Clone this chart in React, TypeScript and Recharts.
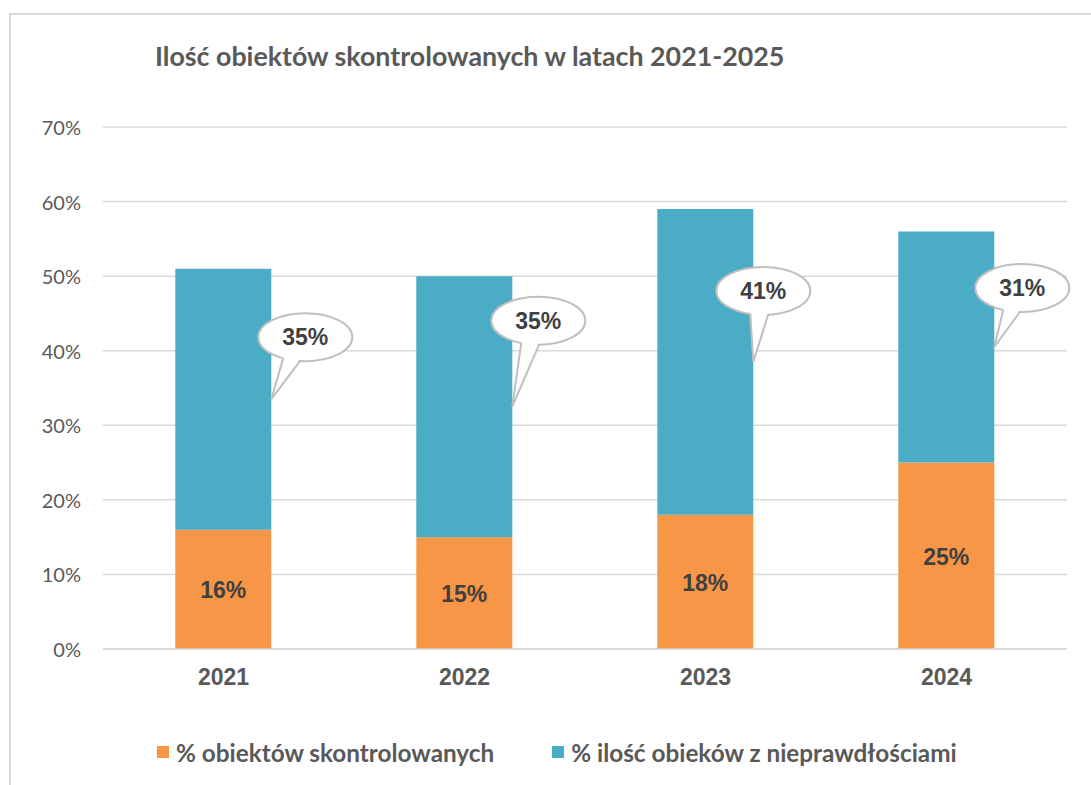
import React from 'react';
import { BarChart, Bar, XAxis, YAxis, CartesianGrid, LabelList } from 'recharts';

const years = ['2021', '2022', '2023', '2024'];
const controlled = [16, 15, 18, 25];
const irregular = [35, 35, 41, 31];
const yTicks = [0, 10, 20, 30, 40, 50, 60, 70];

const seriesNames = ['% obiektów skontrolowanych', '% ilość obieków z nieprawdłościami'];
const seriesColors = ['#F79646', '#4BACC6'];
const titleText = 'Ilość obiektów skontrolowanych w latach 2021-2025';

// manual placement of the callout bubbles relative to the tail tip (styling)
const calloutOffsets = [
  { dx: 34, dy: -62, b1: -22, b2: -5 },
  { dx: 26, dy: -86, b1: -17, b2: 1 },
  { dx: 10, dy: -71, b1: -13, b2: 5 },
  { dx: 28, dy: -59, b1: -19, b2: -2 },
];

const data = years.map((y, i) => ({ year: y, controlled: controlled[i], irregular: irregular[i] }));

const W = 1091;
const H = 785;

const Callout = (props: any) => {
  const { x, y, width, height, value, index } = props;
  const tipX = Number(x) + Number(width);
  const tipY = Number(y) + Number(height) / 2;
  const o = calloutOffsets[index] || calloutOffsets[0];
  const cx = tipX + o.dx;
  const cy = tipY + o.dy;
  const rx = 47;
  const ry = 24;
  const ey = (dx: number) => cy + ry * Math.sqrt(Math.max(0, 1 - (dx / rx) * (dx / rx)));
  const p1 = { x: cx + o.b1, y: ey(o.b1) };
  const p2 = { x: cx + o.b2, y: ey(o.b2) };
  return (
    <g>
      <ellipse cx={cx} cy={cy} rx={rx} ry={ry} fill="#FFFFFF" stroke="#BFBFBF" strokeWidth={2} />
      <polygon
        points={`${p1.x},${p1.y - 3} ${p2.x},${p2.y - 3} ${tipX},${tipY}`}
        fill="#FFFFFF"
        stroke="none"
      />
      <line x1={p1.x} y1={p1.y - 0.5} x2={tipX} y2={tipY} stroke="#BFBFBF" strokeWidth={2} />
      <line x1={p2.x} y1={p2.y - 0.5} x2={tipX} y2={tipY} stroke="#BFBFBF" strokeWidth={2} />
      <text
        x={cx}
        y={cy}
        textAnchor="middle"
        dominantBaseline="central"
        fontFamily="'Liberation Sans', Arial, sans-serif"
        fontWeight="bold"
        fontSize={23}
        fill="#404040"
      >
        {`${value}%`}
      </text>
    </g>
  );
};

const CenterLabel = (props: any) => {
  const { x, y, width, height, value } = props;
  return (
    <text
      x={Number(x) + Number(width) / 2}
      y={Number(y) + Number(height) / 2 + 1}
      textAnchor="middle"
      dominantBaseline="central"
      fontFamily="'Liberation Sans', Arial, sans-serif"
      fontWeight="bold"
      fontSize={23}
      fill="#404040"
    >
      {`${value}%`}
    </text>
  );
};

const YTick = (props: any) => {
  const { y, payload } = props;
  return (
    <text
      x={81}
      y={y}
      textAnchor="end"
      dominantBaseline="central"
      fontFamily="Lato, sans-serif"
      fontSize={20}
      fill="#595959"
    >
      {`${payload.value}%`}
    </text>
  );
};

const XTick = (props: any) => {
  const { x, payload } = props;
  return (
    <text
      x={x}
      y={677}
      textAnchor="middle"
      dominantBaseline="central"
      fontFamily="'Liberation Sans', Arial, sans-serif"
      fontWeight="bold"
      fontSize={23}
      fill="#595959"
    >
      {payload.value}
    </text>
  );
};

export default function App() {
  return (
    <div style={{ position: 'absolute', left: 0, top: 0, width: W, height: H, background: '#fff', overflow: 'hidden' }}>
      <div style={{ position: 'absolute', left: 9, top: 13, width: W + 20, height: H + 20, border: '2px solid #D9D9D9', boxSizing: 'border-box' }} />
      <div
        style={{
          position: 'absolute',
          left: 155,
          top: 38,
          fontFamily: 'Lato, sans-serif',
          fontWeight: 700,
          fontSize: 26.8,
          color: '#595959',
          whiteSpace: 'nowrap',
          lineHeight: '36px',
        }}
      >
        {titleText}
      </div>
      <div style={{ position: 'absolute', left: 0, top: 0 }}>
        <BarChart
          width={W}
          height={H}
          data={data}
          margin={{ top: 127, right: 24, bottom: 96, left: 43 }}
          barCategoryGap="30%"
        >
          <CartesianGrid vertical={false} stroke="#D9D9D9" strokeWidth={1.5} />
          <XAxis
            dataKey="year"
            axisLine={{ stroke: '#D9D9D9', strokeWidth: 1.5 }}
            tickLine={false}
            tick={<XTick />}
            height={40}
          />
          <YAxis
            domain={[0, 70]}
            ticks={yTicks}
            axisLine={false}
            tickLine={false}
            tick={<YTick />}
            width={60}
            interval={0}
          />
          <Bar dataKey="controlled" name={seriesNames[0]} stackId="a" fill={seriesColors[0]} isAnimationActive={false}>
            <LabelList dataKey="controlled" content={<CenterLabel />} />
          </Bar>
          <Bar dataKey="irregular" name={seriesNames[1]} stackId="a" fill={seriesColors[1]} isAnimationActive={false}>
            <LabelList dataKey="irregular" content={<Callout />} />
          </Bar>
        </BarChart>
      </div>
      <div
        style={{
          position: 'absolute',
          left: 157,
          top: 736,
          height: 32,
          display: 'flex',
          alignItems: 'center',
          fontFamily: 'Lato, sans-serif',
          fontWeight: 700,
          fontSize: 24.3,
          color: '#595959',
          whiteSpace: 'nowrap',
        }}
      >
        {seriesNames.map((n, i) => (
          <div key={n} style={{ display: 'flex', alignItems: 'center', marginRight: i === 0 ? 58 : 0 }}>
            <div style={{ width: 12, height: 12, background: seriesColors[i], marginRight: 7 }} />
            <span>{n}</span>
          </div>
        ))}
      </div>
    </div>
  );
}
